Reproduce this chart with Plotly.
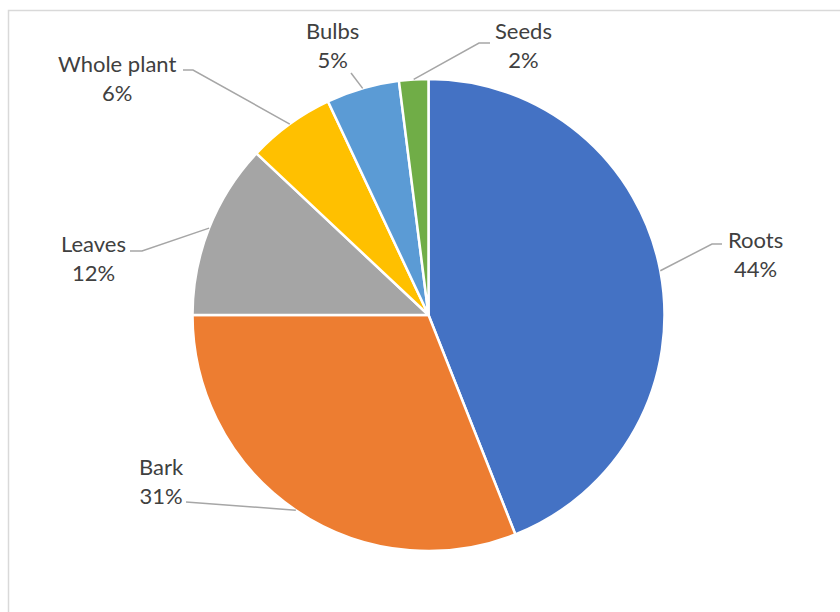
import math
import plotly.graph_objects as go

# ---- data ----
categories = ["Roots", "Bark", "Leaves", "Whole plant", "Bulbs", "Seeds"]
values = [44, 31, 12, 6, 5, 2]
colors = ["#4472C4", "#ED7D31", "#A5A5A5", "#FFC000", "#5B9BD5", "#70AD47"]

# ---- layout (pixels) ----
W, H = 840, 612
CX, CY, R = 428.5, 315.0, 236.0
# label text centre and leader-line label-side points (pixels)
label_pos = {
    "Roots": (755, 253.5),
    "Bark": (161, 480.5),
    "Leaves": (93, 257.5),
    "Whole plant": (117, 77.5),
    "Bulbs": (332, 45.5),
    "Seeds": (523, 45.5),
}
leader_pts = {
    "Roots": [(722, 244), (712, 244)],
    "Bark": [(186, 502)],
    "Leaves": [(130, 251), (142, 251)],
    "Whole plant": [(183, 70), (193, 70)],
    "Bulbs": [(351, 73)],
    "Seeds": [(490, 43), (479, 43)],
}

def px(x):
    return x / W

def py(y):
    return 1 - y / H

fig = go.Figure()
fig.add_trace(go.Pie(
    labels=categories, values=values, sort=False, direction="clockwise",
    rotation=0, textinfo="none", hoverinfo="label+percent",
    marker=dict(colors=colors, line=dict(color="white", width=2.5)),
    domain=dict(x=[px(CX - R), px(CX + R)], y=[py(CY + R), py(CY - R)]),
    showlegend=False,
))

total = sum(values)
shapes = []
annotations = []
cum = 0
for cat, v in zip(categories, values):
    mid = (cum + v / 2) / total * 2 * math.pi
    cum += v
    ex, ey = CX + R * math.sin(mid), CY - R * math.cos(mid)
    pts = leader_pts[cat] + [(ex, ey)]
    path = "M " + " L ".join(f"{px(x):.5f},{py(y):.5f}" for x, y in pts)
    shapes.append(dict(type="path", xref="paper", yref="paper", path=path,
                       line=dict(color="#A6A6A6", width=1.5)))
    lx, ly = label_pos[cat]
    pct = round(v / total * 100)
    annotations.append(dict(
        x=px(lx), y=py(ly), xref="paper", yref="paper",
        text=f"{cat}<br>{pct}%", showarrow=False,
        xanchor="center", yanchor="middle", align="center",
        font=dict(family="Lato", size=22, color="#404040"),
    ))

# chart border (light gray, extends past right/bottom)
shapes.append(dict(type="rect", xref="paper", yref="paper",
                   x0=px(8.5), x1=px(W + 10), y0=py(H + 10), y1=py(10.5),
                   line=dict(color="#D9D9D9", width=1.5), layer="below"))

fig.update_layout(
    width=W, height=H, margin=dict(l=0, r=0, t=0, b=0),
    paper_bgcolor="white", plot_bgcolor="white",
    shapes=shapes, annotations=annotations,
)
fig.write_html("out.html")
